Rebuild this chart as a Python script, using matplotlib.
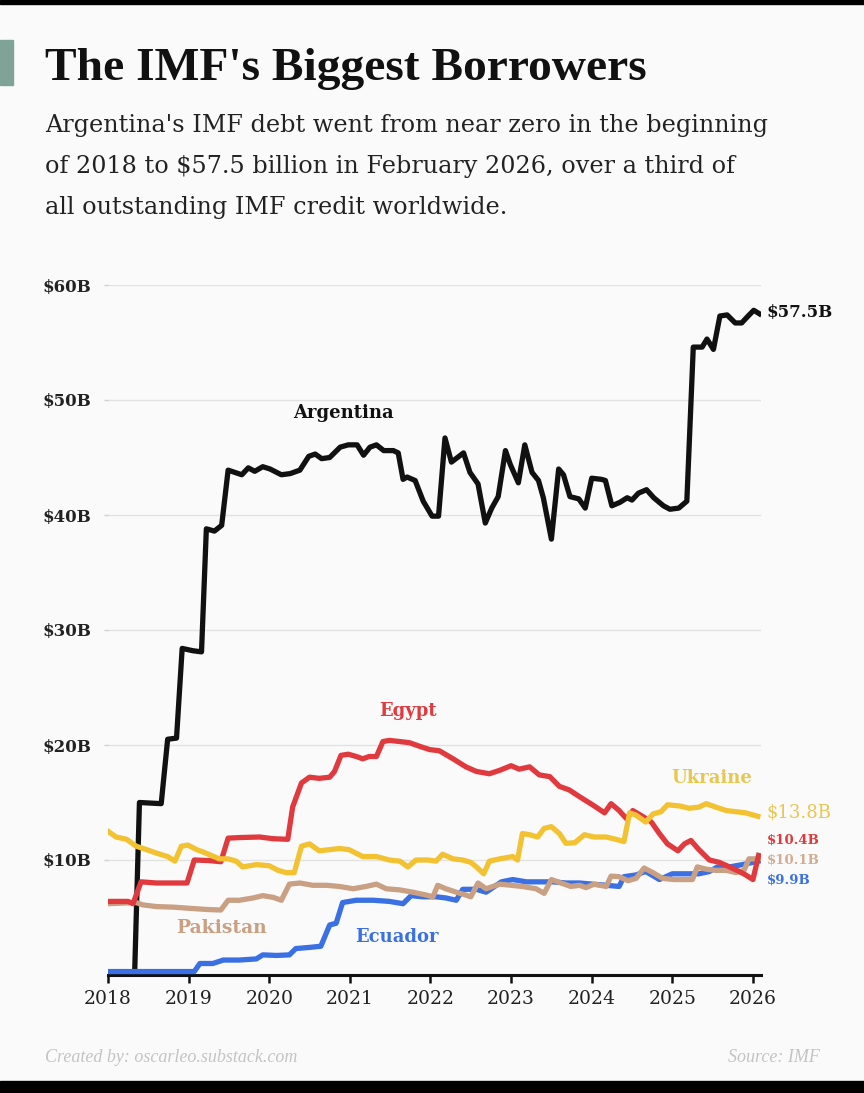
import matplotlib
matplotlib.use("Agg")
import matplotlib.pyplot as plt
from matplotlib.patches import Rectangle

# ---------------- data (years since 2018, $ billions) ----------------
arg_t = [0.00, 0.33, 0.39, 0.66, 0.74, 0.85, 0.92, 1.05, 1.16, 1.22, 1.32, 1.41, 1.49,
         1.66, 1.74, 1.82, 1.92, 2.01, 2.15, 2.26, 2.38, 2.49, 2.57, 2.65, 2.75, 2.88,
         2.98, 3.09, 3.17, 3.25, 3.33, 3.42, 3.54, 3.60, 3.66, 3.71, 3.81, 3.91, 4.02,
         4.10, 4.18, 4.26, 4.41, 4.49, 4.59, 4.68, 4.76, 4.84, 4.93, 4.99, 5.09, 5.17,
         5.26, 5.34, 5.40, 5.50, 5.59, 5.65, 5.73, 5.84, 5.92, 6.00, 6.12, 6.17, 6.25,
         6.35, 6.44, 6.50, 6.58, 6.68, 6.77, 6.89, 6.97, 7.08, 7.18, 7.26, 7.37, 7.43,
         7.51, 7.59, 7.68, 7.78, 7.86, 7.94, 8.01, 8.08]
arg_v = [0.0, 0.0, 15.0, 14.9, 20.5, 20.6, 28.4, 28.2, 28.1, 38.8, 38.6, 39.1, 43.9,
         43.5, 44.1, 43.8, 44.2, 44.0, 43.5, 43.6, 43.9, 45.1, 45.3, 44.9, 45.0, 45.9,
         46.1, 46.1, 45.2, 45.9, 46.1, 45.6, 45.6, 45.4, 43.1, 43.3, 43.0, 41.2, 39.9,
         39.9, 46.7, 44.6, 45.4, 43.7, 42.7, 39.3, 40.6, 41.6, 45.6, 44.4, 42.8, 46.1,
         43.7, 43.0, 41.5, 37.9, 44.0, 43.5, 41.6, 41.4, 40.6, 43.2, 43.1, 43.0, 40.8,
         41.1, 41.5, 41.3, 41.9, 42.2, 41.5, 40.8, 40.5, 40.6, 41.2, 54.6, 54.6, 55.3,
         54.4, 57.3, 57.4, 56.7, 56.7, 57.3, 57.8, 57.5]

egy_t = [0.00, 0.25, 0.31, 0.41, 0.60, 0.98, 1.07, 1.25, 1.40, 1.49, 1.63, 1.88, 2.05,
         2.23, 2.29, 2.40, 2.50, 2.62, 2.75, 2.81, 2.89, 2.98, 3.08, 3.16, 3.24, 3.33,
         3.41, 3.49, 3.62, 3.74, 3.86, 3.99, 4.11, 4.28, 4.44, 4.57, 4.73, 4.86, 5.00,
         5.10, 5.23, 5.35, 5.48, 5.60, 5.72, 5.85, 6.01, 6.16, 6.24, 6.34, 6.43, 6.51,
         6.63, 6.74, 6.84, 6.94, 7.07, 7.15, 7.23, 7.33, 7.46, 7.58, 7.71, 7.83, 7.91,
         8.00, 8.07]
egy_v = [6.4, 6.4, 6.2, 8.1, 8.0, 8.0, 10.0, 9.95, 9.85, 11.9, 11.95, 12.0, 11.85,
         11.8, 14.6, 16.7, 17.2, 17.1, 17.2, 17.7, 19.1, 19.2, 19.0, 18.8, 19.0, 19.0,
         20.3, 20.4, 20.3, 20.2, 19.9, 19.6, 19.5, 18.8, 18.1, 17.7, 17.5, 17.8, 18.2,
         17.9, 18.1, 17.4, 17.25, 16.4, 16.1, 15.5, 14.8, 14.1, 14.9, 14.3, 13.6, 14.3,
         13.8, 13.3, 12.3, 11.4, 10.8, 11.4, 11.7, 10.9, 10.0, 9.8, 9.4, 9.0, 8.7,
         8.3, 10.4]

ukr_t = [0.00, 0.10, 0.23, 0.35, 0.48, 0.60, 0.74, 0.83, 0.91, 0.99, 1.10, 1.18, 1.28,
         1.38, 1.49, 1.59, 1.67, 1.84, 2.00, 2.11, 2.21, 2.31, 2.40, 2.50, 2.62, 2.75,
         2.87, 2.99, 3.16, 3.33, 3.49, 3.62, 3.72, 3.82, 3.97, 4.07, 4.15, 4.28, 4.40,
         4.50, 4.57, 4.66, 4.73, 4.86, 5.02, 5.08, 5.14, 5.23, 5.33, 5.41, 5.50, 5.60,
         5.68, 5.79, 5.91, 6.03, 6.18, 6.30, 6.40, 6.47, 6.55, 6.67, 6.76, 6.86, 6.94,
         7.09, 7.21, 7.33, 7.42, 7.54, 7.67, 7.79, 7.91, 8.06]
ukr_v = [12.5, 12.0, 11.8, 11.2, 10.9, 10.6, 10.3, 9.9, 11.2, 11.3, 10.9, 10.7, 10.4,
         10.1, 10.1, 9.9, 9.4, 9.6, 9.5, 9.1, 8.9, 8.9, 11.2, 11.4, 10.8, 10.9,
         11.0, 10.9, 10.3, 10.3, 10.0, 9.9, 9.4, 10.0, 10.0, 9.9, 10.5, 10.1, 10.0,
         9.8, 9.4, 8.8, 9.9, 10.1, 10.3, 10.0, 12.3, 12.2, 12.0, 12.75, 12.9, 12.3,
         11.45, 11.5, 12.2, 12.0, 12.0, 11.8, 11.6, 14.1, 13.9, 13.3, 14.0, 14.2, 14.8,
         14.7, 14.5, 14.6, 14.9, 14.6, 14.3, 14.2, 14.1, 13.8]

pak_t = [0.00, 0.35, 0.43, 0.60, 0.81, 1.01, 1.22, 1.40, 1.49, 1.63, 1.80, 1.92, 2.05,
         2.15, 2.25, 2.38, 2.54, 2.71, 2.87, 3.04, 3.20, 3.33, 3.45, 3.62, 3.78, 3.95,
         4.03, 4.09, 4.19, 4.32, 4.44, 4.50, 4.59, 4.69, 4.86, 5.00, 5.14, 5.31, 5.41,
         5.50, 5.62, 5.74, 5.85, 5.93, 6.03, 6.18, 6.24, 6.34, 6.45, 6.55, 6.65, 6.76,
         6.88, 7.02, 7.17, 7.25, 7.31, 7.42, 7.54, 7.67, 7.79, 7.89, 7.95, 8.07]
pak_v = [6.2, 6.3, 6.1, 5.95, 5.9, 5.8, 5.7, 5.65, 6.5, 6.5, 6.7, 6.9, 6.75,
         6.5, 7.9, 8.0, 7.8, 7.8, 7.7, 7.5, 7.7, 7.9, 7.5, 7.4, 7.2, 6.95,
         6.8, 7.8, 7.5, 7.2, 6.95, 6.8, 8.0, 7.5, 7.9, 7.8, 7.7, 7.5, 7.1,
         8.3, 8.0, 7.7, 7.8, 7.6, 7.9, 7.7, 8.6, 8.55, 8.2, 8.4, 9.3, 8.9,
         8.4, 8.3, 8.3, 8.3, 9.4, 9.2, 9.1, 9.1, 8.9, 9.1, 10.1, 10.1]

ecu_t = [0.00, 1.07, 1.14, 1.30, 1.43, 1.63, 1.84, 1.92, 2.09, 2.25, 2.33, 2.50, 2.64,
         2.75, 2.83, 2.91, 3.08, 3.29, 3.49, 3.66, 3.76, 3.90, 4.07, 4.19, 4.32, 4.40,
         4.57, 4.69, 4.88, 5.02, 5.19, 5.35, 5.52, 5.68, 5.85, 6.01, 6.18, 6.34, 6.40,
         6.55, 6.67, 6.84, 7.00, 7.17, 7.33, 7.46, 7.56, 7.71, 7.87, 8.07]
ecu_v = [0.3, 0.3, 1.0, 1.0, 1.3, 1.3, 1.4, 1.75, 1.7, 1.75, 2.3, 2.4, 2.5,
         4.35, 4.5, 6.3, 6.5, 6.5, 6.4, 6.2, 6.9, 6.8, 6.8, 6.7, 6.5, 7.45,
         7.45, 7.2, 8.1, 8.3, 8.1, 8.1, 8.1, 8.0, 8.0, 7.9, 7.8, 7.7, 8.55,
         8.7, 9.0, 8.3, 8.8, 8.8, 8.8, 9.0, 9.4, 9.4, 9.6, 9.9]

year_ticks = list(range(2018, 2027))
y_ticks = [10, 20, 30, 40, 50, 60]
y_ticklabels = ["$10B", "$20B", "$30B", "$40B", "$50B", "$60B"]

end_labels = ["$57.5B", "$13.8B", "$10.4B", "$10.1B", "$9.9B"]

C_ARG = "#111111"
C_EGY = "#e03a3f"
C_UKR = "#f2c232"
C_PAK = "#c9a084"
C_ECU = "#3a70e3"

# ---------------- figure ----------------
W, H = 864, 1093
fig = plt.figure(figsize=(W / 100, H / 100), dpi=100)
BG = "#fafafa"
fig.patch.set_facecolor(BG)

def fx(px):
    return px / W

def fy(py):
    return 1 - py / H

# black bands top & bottom
fig.add_artist(Rectangle((0, fy(4)), 1, 4 / H, transform=fig.transFigure, color="black", zorder=0))
fig.add_artist(Rectangle((0, 0), 1, (H - 1081) / H, transform=fig.transFigure, color="black", zorder=0))
# accent bar
fig.add_artist(Rectangle((0, fy(85)), fx(13), 45 / H, transform=fig.transFigure, color="#7fa396"))

SERIF = "DejaVu Serif"
fig.text(fx(45), fy(80), "The IMF's Biggest Borrowers", fontsize=34.2, family="Liberation Serif",
         weight="bold", va="baseline", ha="left", color="#111111")
subs = ["Argentina's IMF debt went from near zero in the beginning",
        "of 2018 to $57.5 billion in February 2026, over a third of",
        "all outstanding IMF credit worldwide."]
for i, s in enumerate(subs):
    fig.text(fx(45), fy(132 + 41 * i), s, fontsize=17.2, family=SERIF,
             va="baseline", ha="left", color="#222222")

fig.text(fx(45), fy(1057), "Created by: oscarleo.substack.com", fontsize=13,
         family="Liberation Serif", style="italic", color="#c4c4c4", va="center", ha="left")
fig.text(fx(820), fy(1057), "Source: IMF", fontsize=13, family="Liberation Serif",
         style="italic", color="#c4c4c4", va="center", ha="right")

# ---------------- axes ----------------
ax = fig.add_axes([fx(108), fy(975), fx(761) - fx(108), (975 - 285) / H])
ax.set_facecolor(BG)
ax.set_xlim(2018, 2026.1)
ax.set_ylim(0, 60)

def yrs(t):
    return [2018 + v for v in t]

lw = 3.8
ax.plot(yrs(arg_t), arg_v, color=C_ARG, lw=lw, zorder=2, solid_joinstyle="round")
ax.plot(yrs(ecu_t), ecu_v, color=C_ECU, lw=lw, zorder=3, solid_joinstyle="round")
ax.plot(yrs(pak_t), pak_v, color=C_PAK, lw=lw, zorder=4, solid_joinstyle="round")
ax.plot(yrs(egy_t), egy_v, color=C_EGY, lw=lw, zorder=5, solid_joinstyle="round")
ax.plot(yrs(ukr_t), ukr_v, color=C_UKR, lw=lw, zorder=6, solid_joinstyle="round")

ax.set_yticks(y_ticks)
ax.set_yticklabels(y_ticklabels)
ax.set_xticks(year_ticks)
ax.set_xticklabels([str(y) for y in year_ticks])
ax.grid(axis="y", color="#e2e2e2", lw=1.0)
ax.set_axisbelow(True)
for s in ["top", "right", "left"]:
    ax.spines[s].set_visible(False)
ax.spines["bottom"].set_linewidth(2.2)
ax.spines["bottom"].set_color("#111111")
ax.tick_params(axis="x", length=6, width=1.8, color="#111111", pad=5,
               labelsize=13.5, labelcolor="#222222")
ax.tick_params(axis="y", length=3, width=1, color="#d0d0d0", pad=9,
               labelsize=12, labelcolor="#222222")
for lab in ax.get_xticklabels() + ax.get_yticklabels():
    lab.set_family(SERIF)
for lab in ax.get_yticklabels():
    lab.set_weight("semibold")

# series labels
ax.text(2020.92, 48.9, "Argentina", color=C_ARG, fontsize=13, weight="bold", family=SERIF, ha="center", va="center")
ax.text(2021.72, 23.0, "Egypt", color=C_EGY, fontsize=13, weight="bold", family=SERIF, ha="center", va="center")
ax.text(2025.49, 17.1, "Ukraine", color="#e9c650", fontsize=13, weight="bold", family=SERIF, ha="center", va="center")
ax.text(2019.41, 4.1, "Pakistan", color=C_PAK, fontsize=13.5, weight="bold", family=SERIF, ha="center", va="center")
ax.text(2021.59, 3.3, "Ecuador", color=C_ECU, fontsize=13, weight="bold", family=SERIF, ha="center", va="center")

# end labels
xe = 2026.17
ax.text(xe, 57.65, end_labels[0], color=C_ARG, fontsize=12, weight="bold", family=SERIF, ha="left", va="center", clip_on=False)
ax.text(xe, 14.1, end_labels[1], color="#e9c650", fontsize=13, family=SERIF, ha="left", va="center", clip_on=False)
ax.text(xe, 11.7, end_labels[2], color=C_EGY, fontsize=9.5, weight="bold", family=SERIF, ha="left", va="center", clip_on=False)
ax.text(xe, 10.0, end_labels[3], color="#cfae95", fontsize=9.5, weight="bold", family=SERIF, ha="left", va="center", clip_on=False)
ax.text(xe, 8.3, end_labels[4], color=C_ECU, fontsize=9.5, weight="bold", family=SERIF, ha="left", va="center", clip_on=False)

fig.savefig("out.png", dpi=100, facecolor=BG)
